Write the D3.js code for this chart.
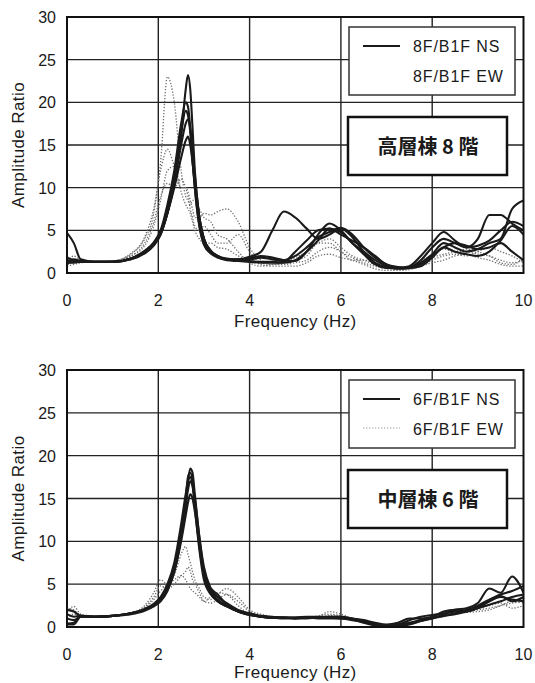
<!DOCTYPE html>
<html>
<head>
<meta charset="utf-8">
<script src="https://cdn.jsdelivr.net/npm/d3@7"></script>
<style>
  body { margin: 0; background: #fff; }
  svg { display: block; }
  text { font-family: "Liberation Sans", Arial, sans-serif; fill: #1a1a1a; }
  .cjk { font-family: "Noto Sans CJK JP", sans-serif; }
</style>
</head>
<body>
<svg id="chart" width="535" height="683"></svg>
<script>
// Frequency grid (Hz) shared by every curve
const freq = [0, 0.15, 0.3, 0.6, 1.0, 1.4, 1.7, 1.9, 2.05, 2.2, 2.35, 2.5, 2.6, 2.65, 2.7, 2.75, 2.8, 2.9, 3.0, 3.15, 3.3, 3.5, 3.75, 4.0,
  4.25, 4.5, 4.75, 5.0, 5.25, 5.5, 5.75, 6.0, 6.25, 6.5, 6.75, 7.0, 7.25, 7.5, 7.75, 8.0, 8.25, 8.5, 8.75, 9.0, 9.25, 9.5, 9.75, 10.0];

const xTicks = [0, 2, 4, 6, 8, 10];
const yTicks = [0, 5, 10, 15, 20, 25, 30];

// --- 高層棟 8階 : 8F/B1F NS (solid) ---
const ns8a = [4.7, 3.5, 1.6, 1.3, 1.3, 1.7, 2.5, 3.3, 4.5, 7, 10.5, 16, 21.5, 23.2, 21.5, 17, 12, 6.5, 4, 2.6, 2.0, 1.6, 1.5, 1.7,
  2.0, 1.8, 1.5, 1.4, 2.5, 4.5, 5.8, 5.0, 3.5, 2.2, 1.0, 0.6, 0.6, 0.8, 2.0, 3.5, 4.8, 3.8, 3.0, 3.2, 3.8, 5.0, 6.0, 5.5];
const ns8b = [1.5, 1.4, 1.3, 1.3, 1.3, 1.7, 2.6, 3.6, 5, 8, 12, 17.5, 20, 19.5, 17, 13.5, 10, 5.5, 3.5, 2.4, 1.9, 1.6, 1.6, 1.9,
  2.5, 5.0, 7.2, 6.5, 5.2, 4.0, 4.5, 5.2, 4.2, 2.5, 1.2, 0.7, 0.6, 0.7, 1.5, 3.0, 4.0, 3.5, 3.0, 4.0, 6.8, 6.8, 5.8, 5.0];
const ns8c = [1.0, 1.6, 1.4, 1.3, 1.3, 1.6, 2.3, 3.2, 4.5, 7, 10, 13.5, 15.5, 16, 15, 13, 10.5, 6.5, 4, 2.6, 1.9, 1.6, 1.5, 1.4,
  1.3, 1.3, 1.2, 1.5, 2.5, 3.8, 5.2, 4.8, 3.5, 2.5, 1.5, 0.8, 0.5, 0.6, 1.2, 2.2, 3.5, 3.0, 2.5, 2.8, 3.5, 4.0, 7.5, 8.5];
const ns8d = [1.8, 1.5, 1.4, 1.3, 1.3, 1.7, 2.5, 3.4, 4.8, 7.5, 11.5, 16.5, 19, 18.5, 16.5, 13, 10, 5.5, 3.3, 2.3, 1.8, 1.5, 1.4, 1.3,
  1.2, 1.2, 1.3, 2.5, 3.8, 5.0, 5.2, 4.5, 3.8, 3.0, 2.0, 1.0, 0.6, 0.7, 1.0, 2.0, 3.0, 3.5, 3.2, 2.8, 3.0, 3.5, 2.5, 1.5];
const ns8e = [1.2, 1.2, 1.3, 1.3, 1.3, 1.6, 2.4, 3.3, 4.6, 7, 10.5, 15, 17.5, 18, 17, 14.5, 11.5, 6.5, 4, 2.6, 2.0, 1.7, 1.6, 1.6,
  1.8, 1.6, 1.5, 2.0, 3.0, 4.2, 4.8, 5.3, 4.5, 3.0, 1.8, 1.0, 0.7, 0.6, 0.8, 1.8, 3.0, 2.5, 2.2, 2.0, 2.5, 3.8, 5.5, 4.5];

// --- 高層棟 8階 : 8F/B1F EW (dotted) ---
const ew8a = [1.0, 2.0, 1.5, 1.3, 1.4, 2.2, 4.0, 7, 13, 23, 20, 12, 9, 8.5, 8, 8.5, 8.5, 7.5, 6.5, 6, 4.5, 4.0, 2.5, 1.2,
  0.8, 1.0, 1.2, 1.5, 2.0, 3.5, 3.5, 2.5, 1.8, 1.2, 0.8, 0.5, 0.4, 0.6, 1.5, 2.0, 2.8, 2.5, 2.5, 2.2, 2.0, 1.5, 1.2, 1.5];
const ew8b = [2.0, 1.5, 1.3, 1.3, 1.4, 2.3, 4.2, 7.5, 12, 14.5, 12.5, 10, 10, 9.5, 8.5, 7.5, 6.5, 6.5, 7, 6.8, 7.2, 7.5, 6, 3.0,
  1.5, 1.0, 1.2, 1.8, 2.5, 3.5, 4.0, 3.0, 2.0, 1.5, 1.0, 0.7, 0.5, 0.7, 1.0, 1.8, 2.2, 2.5, 2.8, 2.5, 2.0, 1.2, 1.0, 1.8];
const ew8c = [1.2, 1.2, 1.3, 1.3, 1.4, 2.0, 3.5, 6, 9, 10.5, 10, 11, 10, 9, 7.5, 6.5, 5.5, 5, 5.5, 4.5, 3.5, 3.5, 4.5, 2.5,
  1.2, 1.0, 1.0, 1.2, 1.5, 2.5, 3.0, 2.5, 1.5, 1.5, 1.2, 0.6, 0.5, 0.5, 0.8, 1.5, 2.0, 2.2, 2.0, 2.5, 3.0, 2.5, 2.0, 1.2];
const ew8d = [0.8, 1.0, 1.2, 1.3, 1.4, 2.0, 3.2, 5.5, 8.5, 12, 12.5, 9.5, 8, 7.5, 7, 6, 5, 4, 3.5, 3.5, 3.0, 2.8, 2.0, 1.5,
  1.0, 0.8, 0.8, 0.8, 1.2, 2.0, 2.2, 1.8, 1.5, 1.0, 0.5, 0.3, 0.3, 0.4, 0.8, 1.2, 1.5, 2.0, 2.2, 1.8, 1.5, 1.0, 0.8, 0.8];

// --- 中層棟 6階 : 6F/B1F NS (solid) ---
const ns6a = [2.0, 1.8, 1.3, 1.2, 1.3, 1.6, 2.0, 2.5, 3.2, 4.5, 6.5, 10.5, 14.5, 17, 18.5, 18, 15.5, 10.5, 6.5, 4.2, 3.2, 2.5, 1.8, 1.5,
  1.2, 1.1, 1.1, 1.1, 1.2, 1.2, 1.2, 1.2, 0.9, 0.6, 0.2, 0.1, 0.2, 0.4, 0.7, 1.0, 1.5, 2.0, 2.2, 2.8, 4.5, 4.0, 5.9, 4.0];
const ns6b = [0.4, 0.5, 1.3, 1.2, 1.3, 1.6, 2.0, 2.6, 3.3, 4.6, 7, 11, 15, 17.5, 18, 17, 14.5, 9.5, 6, 4.5, 3.8, 2.6, 1.8, 1.4,
  1.2, 1.1, 1.1, 1.0, 1.1, 1.1, 1.2, 1.2, 1.0, 0.7, 0.4, 0.2, 0.3, 0.8, 1.2, 1.4, 1.6, 1.8, 2.0, 2.5, 3.2, 3.8, 4.2, 4.8];
const ns6c = [1.0, 0.8, 1.2, 1.2, 1.3, 1.6, 2.0, 2.5, 3.1, 4.3, 6.5, 10, 13, 14.5, 15.5, 15, 13.5, 9.5, 6, 4.0, 3.0, 2.4, 1.8, 1.5,
  1.2, 1.1, 1.0, 1.0, 1.1, 1.1, 1.1, 1.0, 0.9, 0.5, 0.2, 0.1, 0.1, 0.3, 0.7, 1.1, 1.3, 1.5, 1.8, 2.2, 2.6, 3.0, 3.5, 3.8];
const ns6d = [1.5, 1.2, 1.3, 1.2, 1.3, 1.6, 2.1, 2.7, 3.5, 5, 7.5, 12, 15.5, 17, 17.5, 16.5, 14, 9, 5.5, 3.8, 3.0, 2.4, 1.8, 1.4,
  1.2, 1.1, 1.1, 1.0, 1.0, 1.1, 1.1, 1.1, 1.0, 0.8, 0.5, 0.3, 0.5, 1.0, 1.0, 1.2, 1.8, 2.0, 1.8, 2.2, 3.0, 3.5, 3.2, 3.0];
const ns6e = [0.3, 0.3, 1.2, 1.2, 1.3, 1.5, 1.9, 2.4, 3.0, 4.2, 6.5, 10.5, 14, 16, 17, 16.5, 15, 10.5, 7, 4.5, 3.5, 2.8, 2.0, 1.6,
  1.3, 1.2, 1.1, 1.1, 1.1, 1.0, 1.0, 1.0, 0.8, 0.6, 0.3, 0.2, 0.3, 0.5, 0.8, 1.0, 1.3, 1.6, 1.9, 2.4, 3.0, 3.6, 3.0, 3.5];

// --- 中層棟 6階 : 6F/B1F EW (dotted) ---
const ew6a = [2.2, 2.0, 1.4, 1.3, 1.3, 1.6, 2.5, 4.0, 5.5, 5.0, 6.0, 8.5, 9.4, 8.5, 7.5, 6.5, 5.5, 4.5, 3.5, 3.2, 3.8, 4.5, 3.5, 2.0,
  1.5, 1.2, 1.1, 1.0, 1.0, 1.2, 1.8, 1.5, 1.0, 0.6, 0.3, 0.2, 0.2, 0.5, 0.8, 1.0, 1.2, 1.5, 1.8, 2.0, 2.2, 2.5, 2.8, 3.0];
const ew6b = [1.8, 2.4, 1.5, 1.3, 1.3, 1.6, 2.3, 3.5, 4.8, 4.5, 5.0, 6.0, 6.5, 7.0, 6.5, 5.5, 5.0, 4.0, 3.0, 2.8, 3.2, 3.8, 3.0, 1.8,
  1.3, 1.2, 1.0, 1.0, 1.1, 1.3, 1.5, 1.3, 0.9, 0.5, 0.3, 0.2, 0.3, 0.5, 0.9, 1.2, 1.5, 1.8, 2.0, 2.2, 2.5, 2.8, 2.2, 2.5];
const ew6c = [1.0, 1.5, 1.3, 1.2, 1.3, 1.5, 2.2, 3.2, 4.2, 5.0, 5.5, 6.0, 5.5, 5.0, 4.5, 4.2, 4.0, 3.5, 3.0, 3.5, 4.0, 3.8, 2.5, 1.5,
  1.3, 1.1, 1.0, 1.0, 1.0, 1.1, 1.3, 1.2, 0.8, 0.5, 0.3, 0.2, 0.2, 0.4, 0.7, 1.0, 1.3, 1.5, 1.7, 1.8, 2.0, 2.5, 3.0, 2.8];

const panels = [
  { top: 17, bottom: 273, ns: [ns8a, ns8b, ns8c, ns8d, ns8e], ew: [ew8a, ew8b, ew8c, ew8d],
    nsLabel: "8F/B1F NS", ewLabel: "8F/B1F EW", title: "高層棟 8 階", ewSample: false },
  { top: 370, bottom: 627, ns: [ns6a, ns6b, ns6c, ns6d, ns6e], ew: [ew6a, ew6b, ew6c],
    nsLabel: "6F/B1F NS", ewLabel: "6F/B1F EW", title: "中層棟 6 階", ewSample: true }
];

const svg = d3.select("#chart");
const left = 67, right = 523.5;

panels.forEach((p, i) => drawPanel(p, i));

function drawPanel(p, i) {
  const x = d3.scaleLinear().domain([0, 10]).range([left, right]);
  const y = d3.scaleLinear().domain([0, 30]).range([p.bottom, p.top]);
  const g = svg.append("g");

  // Grid
  g.append("g")
    .selectAll("line")
    .data(xTicks.slice(1, -1))
    .join("line")
    .attr("x1", (d) => x(d)).attr("x2", (d) => x(d))
    .attr("y1", p.top).attr("y2", p.bottom)
    .attr("stroke", "#222").attr("stroke-width", 1.4);
  g.append("g")
    .selectAll("line")
    .data(yTicks.slice(1, -1))
    .join("line")
    .attr("x1", left).attr("x2", right)
    .attr("y1", (d) => y(d)).attr("y2", (d) => y(d))
    .attr("stroke", "#222").attr("stroke-width", 1.4);

  // Curves
  const clipId = "clip" + i;
  svg.append("defs").append("clipPath").attr("id", clipId)
    .append("rect").attr("x", left).attr("y", p.top)
    .attr("width", right - left).attr("height", p.bottom - p.top);

  const line = d3.line()
    .x((d, k) => x(freq[k]))
    .y((d) => y(d))
    .curve(d3.curveMonotoneX);

  const curves = g.append("g").attr("clip-path", `url(#${clipId})`);
  curves.selectAll("path.ew")
    .data(p.ew)
    .join("path")
    .attr("class", "ew")
    .attr("d", line)
    .attr("fill", "none")
    .attr("stroke", "#6f6f6f")
    .attr("stroke-width", 1.3)
    .attr("stroke-dasharray", "1.3,1.7");
  curves.selectAll("path.ns")
    .data(p.ns)
    .join("path")
    .attr("class", "ns")
    .attr("d", line)
    .attr("fill", "none")
    .attr("stroke", "#1a1a1a")
    .attr("stroke-width", 2.1);

  // Border
  g.append("rect")
    .attr("x", left).attr("y", p.top)
    .attr("width", right - left).attr("height", p.bottom - p.top)
    .attr("fill", "none").attr("stroke", "#111").attr("stroke-width", 2);

  // Tick labels
  g.append("g")
    .selectAll("text")
    .data(yTicks)
    .join("text")
    .attr("x", 56).attr("y", (d) => y(d) + 6)
    .attr("text-anchor", "end")
    .attr("font-size", 16)
    .text((d) => d);
  g.append("g")
    .selectAll("text")
    .data(xTicks)
    .join("text")
    .attr("x", (d) => x(d)).attr("y", p.bottom + 33)
    .attr("text-anchor", "middle")
    .attr("font-size", 16)
    .text((d) => d);

  // Axis titles
  g.append("text")
    .attr("x", (left + right) / 2).attr("y", Math.min(p.bottom + 54, 678))
    .attr("text-anchor", "middle")
    .attr("font-size", 17)
    .attr("letter-spacing", 0.4)
    .text("Frequency (Hz)");
  g.append("text")
    .attr("transform", `translate(24, ${(p.top + p.bottom) / 2}) rotate(-90)`)
    .attr("text-anchor", "middle")
    .attr("font-size", 17)
    .attr("letter-spacing", 0.4)
    .text("Amplitude Ratio");

  // Legend box
  const lg = g.append("g").attr("transform", `translate(349, ${p.top + 10})`);
  lg.append("rect")
    .attr("width", 166).attr("height", 68)
    .attr("fill", "#fff").attr("stroke", "#333").attr("stroke-width", 1.5);
  lg.append("line")
    .attr("x1", 14).attr("x2", 51).attr("y1", 19).attr("y2", 19)
    .attr("stroke", "#1a1a1a").attr("stroke-width", 1.8);
  if (p.ewSample) {
    lg.append("line")
      .attr("x1", 14).attr("x2", 51).attr("y1", 48).attr("y2", 48)
      .attr("stroke", "#9a9a9a").attr("stroke-width", 1.2)
      .attr("stroke-dasharray", "1.3,1.7");
  }
  lg.append("text")
    .attr("x", 64).attr("y", 25)
    .attr("font-size", 16).attr("letter-spacing", 0.9)
    .text(p.nsLabel);
  lg.append("text")
    .attr("x", 64).attr("y", 55)
    .attr("font-size", 16).attr("letter-spacing", 0.9)
    .text(p.ewLabel);

  // Title box
  const tg = g.append("g").attr("transform", `translate(348, ${p.top + 100})`);
  tg.append("rect")
    .attr("width", 159).attr("height", 58)
    .attr("fill", "#fff").attr("stroke", "#111").attr("stroke-width", 2.5);
  tg.append("text")
    .attr("class", "cjk")
    .attr("x", 80).attr("y", 37)
    .attr("text-anchor", "middle")
    .attr("font-size", 20)
    .attr("font-weight", "bold")
    .text(p.title);
}
</script>
</body>
</html>
